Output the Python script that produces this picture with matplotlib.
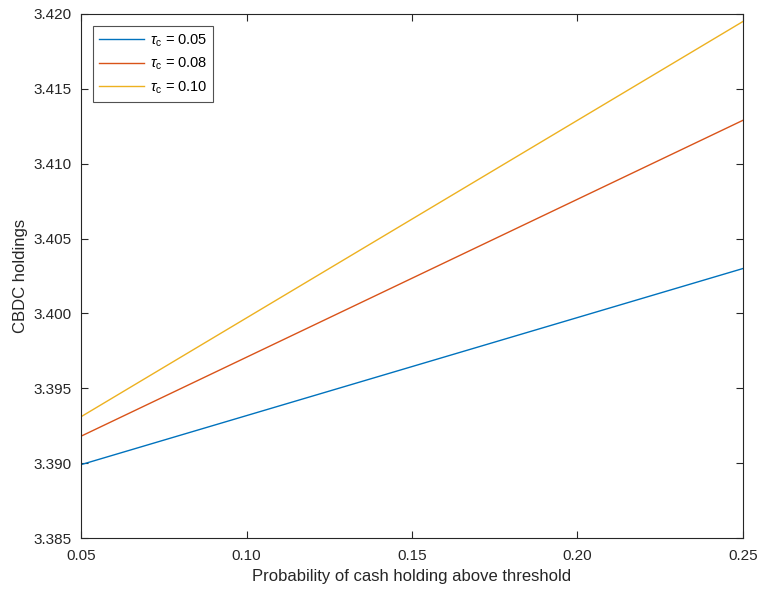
import numpy as np
import matplotlib
matplotlib.use("Agg")
import matplotlib.pyplot as plt

plt.rcParams['font.family'] = ['Liberation Sans', 'DejaVu Sans']
plt.rcParams['mathtext.fontset'] = 'custom'
plt.rcParams['mathtext.it'] = 'Liberation Sans:italic'
plt.rcParams['mathtext.rm'] = 'Liberation Sans'

# probability of cash holding above threshold
prob = [0.05, 0.25]
# CBDC holdings for each tau_c
tau_labels = ["0.05", "0.08", "0.10"]
cbdc_005 = [3.3899, 3.4030]
cbdc_008 = [3.3918, 3.4129]
cbdc_010 = [3.3931, 3.4195]

colors = ["#0072BD", "#D95319", "#EDB120"]

fig = plt.figure(figsize=(7.6, 5.9), dpi=100)
ax = fig.add_axes([0.1066, 0.0881, 0.8710, 0.8882])

for ys, lab, c in zip([cbdc_005, cbdc_008, cbdc_010], tau_labels, colors):
    ax.plot(prob, ys, color=c, lw=1.0, label=r"$\tau_{\mathrm{c}}$ = " + lab)

ax.set_xlim(0.05, 0.25)
ax.set_ylim(3.385, 3.420)
ax.set_xticks(np.arange(0.05, 0.2501, 0.05))
ax.set_yticks(np.arange(3.385, 3.42001, 0.005))
ax.xaxis.set_major_formatter(matplotlib.ticker.FormatStrFormatter("%.2f"))
ax.yaxis.set_major_formatter(matplotlib.ticker.FormatStrFormatter("%.3f"))
ax.tick_params(direction="in", top=True, right=True, length=5, width=0.8,
               labelsize=11, colors="#262626")
ax.tick_params(axis="y", pad=6.5)
ax.tick_params(axis="x", pad=8)
for s in ax.spines.values():
    s.set_color("#262626")
    s.set_linewidth(0.8)

ax.set_xlabel("Probability of cash holding above threshold", fontsize=12, color="#262626", labelpad=4)
ax.set_ylabel("CBDC holdings", fontsize=12, color="#262626", labelpad=4)

leg = ax.legend(loc="upper left", fontsize=10.5, frameon=True, fancybox=False,
                edgecolor="#262626", handlelength=3.1, handletextpad=0.35,
                borderaxespad=0.85, labelspacing=0.5)
leg.get_frame().set_linewidth(0.8)

fig.savefig("out.png", dpi=100)
